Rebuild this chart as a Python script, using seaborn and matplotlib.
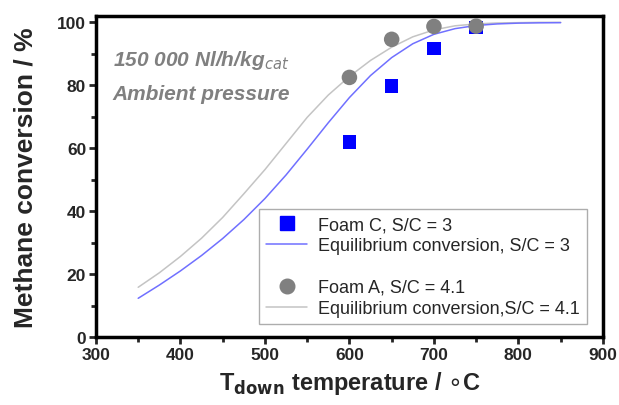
import numpy as np
import pandas as pd
import seaborn as sns
import matplotlib.pyplot as plt
from matplotlib.lines import Line2D

# measured points
temp_pts = [600, 650, 700, 750]
foam_c = [61.9, 79.7, 91.7, 98.3]
foam_a = [82.5, 94.6, 98.7, 98.8]

# equilibrium curves
temp_eq = [350, 375, 400, 425, 450, 475, 500, 525, 550, 575, 600,
           625, 650, 675, 700, 725, 750, 775, 800, 825, 850]
eq_sc3 = [12.3, 16.5, 21.0, 25.9, 31.3, 37.3, 44.0, 51.5, 59.7, 68.1, 76.1,
          83.1, 88.8, 93.2, 96.2, 98.0, 99.0, 99.5, 99.75, 99.85, 99.9]
eq_sc41 = [15.8, 20.4, 25.6, 31.4, 38.0, 45.5, 53.2, 61.5, 69.8, 76.9, 82.8,
           87.9, 92.1, 95.4, 97.6, 98.9, 99.5, 99.8, 99.9, 100.0, 100.0]

pts = pd.DataFrame({'T': temp_pts, 'C': foam_c, 'A': foam_a})
eq = pd.DataFrame({'T': temp_eq, 'sc3': eq_sc3, 'sc41': eq_sc41})

sns.set_style('ticks')
plt.rcParams['font.family'] = ['Liberation Sans', 'DejaVu Sans']

fig = plt.figure(figsize=(6.19, 4.06), dpi=100)
ax = fig.add_axes([0.155, 0.1675, 0.819, 0.7905])

sns.lineplot(data=eq, x='T', y='sc41', color='#c4c4c4', lw=1.1, ax=ax)
sns.lineplot(data=eq, x='T', y='sc3', color='#7070ff', lw=1.1, ax=ax)
sns.scatterplot(data=pts, x='T', y='C', marker='s', s=95, color='#0000ff',
                edgecolor='none', ax=ax, zorder=3)
sns.scatterplot(data=pts, x='T', y='A', marker='o', s=125, color='#808080',
                edgecolor='none', ax=ax, zorder=4)

ax.set_xlim(300, 900)
ax.set_ylim(0, 102)
ax.set_xticks(range(300, 901, 100))
ax.set_xticks(range(350, 900, 100), minor=True)
ax.set_yticks(range(0, 101, 20))
ax.set_yticks(range(10, 100, 20), minor=True)
for s in ax.spines.values():
    s.set_linewidth(2.5)
    s.set_color('black')
ax.tick_params(which='major', direction='out', length=5, width=2, labelsize=12.5, pad=2)
ax.tick_params(which='minor', direction='out', length=3.5, width=2)
for lab in ax.get_xticklabels() + ax.get_yticklabels():
    lab.set_fontweight('bold')

ax.set_xlabel(r'T$_{\mathbf{down}}$ temperature / $\circ$C', fontsize=17,
              fontweight='bold', labelpad=5)
ax.set_ylabel('Methane conversion / %', fontsize=19, fontweight='bold', labelpad=14)

ax.text(0.033, 0.847, r'150 000 Nl/h/kg$_{\mathit{cat}}$', transform=ax.transAxes,
        fontsize=15, fontweight='bold', fontstyle='italic', color='#808080',
        va='baseline')
ax.text(0.033, 0.741, 'Ambient pressure', transform=ax.transAxes,
        fontsize=15, fontweight='bold', fontstyle='italic', color='#808080',
        va='baseline')

handles = [
    Line2D([], [], marker='s', ls='none', color='#0000ff', ms=9.5),
    Line2D([], [], color='#7070ff', lw=1.1),
    Line2D([], [], ls='none'),
    Line2D([], [], marker='o', ls='none', color='#808080', ms=10.5),
    Line2D([], [], color='#c4c4c4', lw=1.1),
]
labels = ['Foam C, S/C = 3', 'Equilibrium conversion, S/C = 3', ' ',
          'Foam A, S/C = 4.1', 'Equilibrium conversion,S/C = 4.1']
leg = ax.legend(handles, labels, loc='lower left', bbox_to_anchor=(0.321, 0.04),
                fontsize=13, frameon=True, fancybox=False, borderpad=0.4,
                labelspacing=0.22, handlelength=2.3, handletextpad=0.6,
                borderaxespad=0)
leg.get_frame().set_edgecolor('#999999')
leg.get_frame().set_linewidth(1)

fig.savefig('out.png', dpi=100)
